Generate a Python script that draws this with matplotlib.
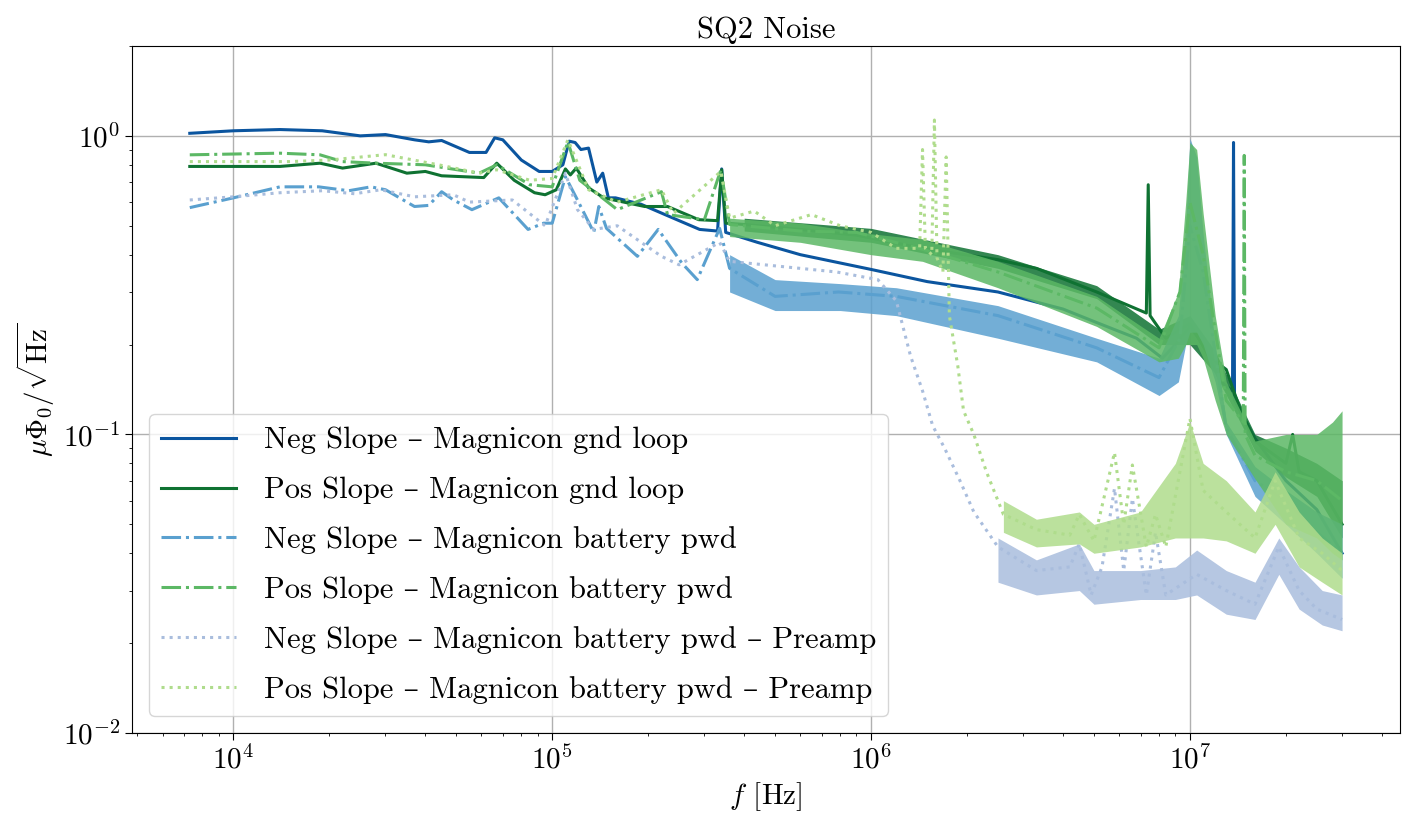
import matplotlib
matplotlib.use("Agg")
import matplotlib.pyplot as plt

plt.rcParams['font.family'] = ['cmr10', 'DejaVu Serif']
plt.rcParams['mathtext.fontset'] = 'cm'
plt.rcParams['axes.formatter.use_mathtext'] = True
plt.rcParams['axes.unicode_minus'] = False

labels = [
    "Neg Slope \u2013 Magnicon gnd loop",
    "Pos Slope \u2013 Magnicon gnd loop",
    "Neg Slope \u2013 Magnicon battery pwd",
    "Pos Slope \u2013 Magnicon battery pwd",
    "Neg Slope \u2013 Magnicon battery pwd \u2013 Preamp",
    "Pos Slope \u2013 Magnicon battery pwd \u2013 Preamp",
]
colors = ['#0b559f', '#0f7232', '#5aa0cf', '#5cb865', '#a9bddd', '#afdc8c']
styles = ['-', '-', '-.', '-.', ':', ':']

# Neg slope, gnd loop
f_ng = [7.3e3, 1.0e4, 1.4e4, 1.9e4, 2.5e4, 3.0e4, 3.7e4, 4.1e4, 4.5e4, 5.5e4, 6.2e4, 6.6e4,
        7.0e4, 8.0e4, 9.1e4, 1.0e5, 1.08e5, 1.13e5, 1.18e5, 1.23e5, 1.3e5, 1.38e5, 1.44e5,
        1.5e5, 1.58e5, 1.9e5, 2.5e5, 2.9e5, 3.3e5, 3.4e5, 3.5e5, 4.4e5, 6.0e5, 1.0e6, 1.5e6,
        2.5e6, 4.0e6, 5.1e6, 6.8e6, 8.2e6, 9.0e6, 1.0e7, 1.1e7, 1.25e7, 1.36e7, 1.37e7, 1.38e7,
        1.6e7, 2.0e7, 2.5e7, 3.0e7]
v_ng = [1.02, 1.04, 1.05, 1.04, 1.0, 1.01, 0.97, 0.955, 0.965, 0.88, 0.88, 0.985,
        0.97, 0.83, 0.76, 0.76, 0.80, 0.96, 0.95, 0.90, 0.91, 0.70, 0.75,
        0.62, 0.62, 0.59, 0.52, 0.486, 0.48, 0.775, 0.475, 0.44, 0.40, 0.357, 0.325,
        0.30, 0.263, 0.237, 0.21, 0.18, 0.20, 0.23, 0.20, 0.15, 0.14, 0.95, 0.13,
        0.097, 0.07, 0.056, 0.04]

# Pos slope, gnd loop
f_pg = [7.3e3, 1.0e4, 1.4e4, 1.87e4, 2.2e4, 2.8e4, 3.5e4, 4.0e4, 4.5e4, 6.1e4, 6.7e4, 7.6e4,
        8.8e4, 9.5e4, 1.03e5, 1.1e5, 1.14e5, 1.19e5, 1.3e5, 1.45e5, 1.95e5, 2.3e5, 2.88e5,
        3.3e5, 3.4e5, 3.5e5, 4.0e5, 6.0e5, 9.0e5, 1.45e6, 2.5e6, 3.3e6, 5.1e6, 7.3e6, 7.4e6,
        7.5e6, 8.4e6, 1.0e7, 1.15e7, 1.3e7, 1.45e7, 1.6e7, 2.0e7, 2.1e7, 2.2e7, 2.5e7, 3.0e7]
v_pg = [0.79, 0.79, 0.79, 0.81, 0.78, 0.81, 0.75, 0.76, 0.735, 0.725, 0.81, 0.71,
        0.645, 0.635, 0.66, 0.775, 0.74, 0.78, 0.67, 0.62, 0.58, 0.58, 0.524,
        0.52, 0.77, 0.51, 0.505, 0.486, 0.465, 0.42, 0.385, 0.36, 0.30, 0.255, 0.686,
        0.25, 0.21, 0.235, 0.182, 0.165, 0.118, 0.095, 0.08, 0.10, 0.075, 0.07, 0.05]
bf_pg = [4.0e5, 1.0e6, 2.5e6, 5.1e6, 8.0e6, 1.0e7, 1.2e7, 1.6e7, 2.0e7, 2.5e7, 3.0e7]
blo_pg = [0.48, 0.44, 0.36, 0.285, 0.20, 0.20, 0.16, 0.088, 0.072, 0.062, 0.045]
bhi_pg = [0.53, 0.49, 0.40, 0.315, 0.225, 0.25, 0.19, 0.10, 0.09, 0.08, 0.07]

# Neg slope, battery powered
f_nb = [7.3e3, 1.0e4, 1.4e4, 1.85e4, 2.3e4, 2.7e4, 3.0e4, 3.7e4, 4.1e4, 4.5e4, 4.9e4, 5.6e4,
        6.8e4, 8.4e4, 9.4e4, 1.0e5, 1.1e5, 1.2e5, 1.35e5, 1.4e5, 1.48e5, 1.85e5, 2.15e5, 2.55e5,
        2.85e5, 3.35e5, 3.6e5, 5.0e5, 7.9e5, 1.2e6, 2.5e6, 5.1e6, 8.0e6, 9.3e6, 1.0e7, 1.1e7,
        1.3e7, 1.6e7, 2.0e7, 2.5e7, 3.0e7]
v_nb = [0.575, 0.62, 0.675, 0.675, 0.655, 0.675, 0.66, 0.58, 0.585, 0.65, 0.61, 0.566,
        0.62, 0.486, 0.51, 0.51, 0.73, 0.61, 0.475, 0.58, 0.49, 0.395, 0.486, 0.375,
        0.33, 0.49, 0.36, 0.29, 0.30, 0.29, 0.25, 0.195, 0.155, 0.21, 0.5, 0.35,
        0.105, 0.07, 0.06, 0.047, 0.04]
bf_nb = [3.6e5, 5.0e5, 8.0e5, 1.2e6, 2.5e6, 5.1e6, 8.0e6, 9.2e6, 9.7e6, 1.0e7, 1.05e7,
         1.1e7, 1.2e7, 1.3e7, 1.6e7, 2.0e7, 2.5e7, 3.0e7]
blo_nb = [0.30, 0.26, 0.26, 0.25, 0.21, 0.175, 0.135, 0.15, 0.20, 0.22, 0.22,
          0.20, 0.15, 0.10, 0.062, 0.05, 0.04, 0.033]
bhi_nb = [0.40, 0.33, 0.32, 0.31, 0.27, 0.21, 0.18, 0.25, 0.50, 0.98, 0.85,
          0.47, 0.20, 0.11, 0.078, 0.065, 0.055, 0.05]

# Pos slope, battery powered
f_pb = [7.3e3, 1.4e4, 1.87e4, 2.2e4, 2.8e4, 4.0e4, 5.9e4, 6.7e4, 8.5e4, 1.0e5, 1.12e5, 1.22e5,
        1.37e5, 1.6e5, 2.2e5, 2.3e5, 3.0e5, 3.38e5, 3.6e5, 6.0e5, 9.0e5, 1.45e6, 2.5e6, 5.1e6,
        8.0e6, 9.3e6, 1.0e7, 1.1e7, 1.3e7, 1.47e7, 1.48e7, 1.49e7, 1.6e7, 2.0e7, 2.5e7, 3.0e7]
v_pb = [0.864, 0.875, 0.864, 0.82, 0.81, 0.80, 0.75, 0.80, 0.686, 0.675, 0.955, 0.71,
        0.645, 0.566, 0.65, 0.545, 0.524, 0.77, 0.505, 0.48, 0.475, 0.417, 0.35, 0.265,
        0.195, 0.30, 0.6, 0.4, 0.13, 0.11, 0.86, 0.10, 0.085, 0.075, 0.07, 0.06]
bf_pb = [3.6e5, 6.0e5, 1.0e6, 1.45e6, 2.5e6, 5.1e6, 8.0e6, 9.2e6, 9.7e6, 1.0e7, 1.05e7,
         1.1e7, 1.2e7, 1.3e7, 1.6e7, 2.0e7, 2.5e7, 2.8e7, 3.0e7]
blo_pb = [0.46, 0.44, 0.40, 0.38, 0.31, 0.23, 0.175, 0.18, 0.20, 0.20, 0.20,
          0.18, 0.13, 0.10, 0.071, 0.05, 0.045, 0.04, 0.038]
bhi_pb = [0.53, 0.51, 0.47, 0.45, 0.38, 0.29, 0.21, 0.30, 0.60, 0.95, 0.90,
          0.55, 0.25, 0.15, 0.095, 0.10, 0.10, 0.11, 0.12]

# Neg slope, battery powered, preamp
f_np = [7.3e3, 1.0e4, 1.4e4, 1.9e4, 2.4e4, 2.9e4, 3.7e4, 4.9e4, 5.5e4, 7.5e4, 9.5e4, 1.1e5,
        1.2e5, 1.35e5, 1.6e5, 2.2e5, 2.5e5, 3.35e5, 3.6e5, 7.8e5, 1.05e6, 1.2e6, 1.33e6, 1.45e6,
        1.56e6, 1.7e6, 1.9e6, 2.1e6, 2.5e6, 3.3e6, 4.2e6, 4.5e6, 4.9e6, 5.3e6, 5.8e6, 6.2e6,
        6.6e6, 7.3e6, 7.8e6, 8.4e6, 1.05e7, 1.3e7, 1.6e7, 1.9e7, 2.2e7, 2.5e7, 3.0e7]
v_np = [0.61, 0.625, 0.645, 0.655, 0.64, 0.66, 0.625, 0.635, 0.60, 0.61, 0.50, 0.75,
        0.566, 0.486, 0.50, 0.395, 0.37, 0.44, 0.38, 0.35, 0.33, 0.28, 0.183, 0.14,
        0.107, 0.09, 0.07, 0.055, 0.042, 0.035, 0.036, 0.043, 0.029, 0.036, 0.066, 0.035,
        0.061, 0.029, 0.047, 0.029, 0.034, 0.03, 0.027, 0.042, 0.03, 0.026, 0.024]
bf_np = [2.5e6, 3.3e6, 4.5e6, 5.0e6, 7.0e6, 9.0e6, 1.05e7, 1.3e7, 1.6e7, 1.9e7, 2.2e7,
         2.6e7, 3.0e7]
blo_np = [0.032, 0.029, 0.030, 0.027, 0.028, 0.028, 0.029, 0.025, 0.024, 0.034, 0.026,
          0.023, 0.022]
bhi_np = [0.045, 0.038, 0.043, 0.035, 0.035, 0.036, 0.041, 0.035, 0.032, 0.045, 0.036,
          0.030, 0.029]

# Pos slope, battery powered, preamp
f_pp = [7.3e3, 1.0e4, 1.5e4, 2.0e4, 3.0e4, 4.4e4, 5.9e4, 6.7e4, 8.5e4, 1.0e5, 1.12e5, 1.3e5,
        1.6e5, 2.2e5, 2.4e5, 3.38e5, 3.6e5, 4.3e5, 5.0e5, 6.5e5, 8.0e5, 1.0e6, 1.2e6, 1.42e6,
        1.45e6, 1.48e6, 1.55e6, 1.58e6, 1.61e6, 1.68e6, 1.72e6, 1.76e6, 1.87e6, 1.95e6, 2.1e6,
        2.3e6, 2.6e6, 3.3e6, 4.2e6, 4.5e6, 5.0e6, 5.8e6, 6.2e6, 6.6e6, 7.3e6, 7.8e6, 8.4e6,
        1.0e7, 1.1e7, 1.3e7, 1.6e7, 1.85e7, 2.2e7, 2.6e7, 3.0e7]
v_pp = [0.82, 0.82, 0.82, 0.83, 0.865, 0.80, 0.75, 0.77, 0.71, 0.72, 0.97, 0.66,
        0.60, 0.66, 0.55, 0.76, 0.53, 0.56, 0.50, 0.545, 0.50, 0.475, 0.42, 0.42,
        0.90, 0.42, 0.40, 1.13, 0.39, 0.35, 0.85, 0.25, 0.17, 0.12, 0.10,
        0.075, 0.054, 0.048, 0.046, 0.054, 0.044, 0.087, 0.05, 0.079, 0.042, 0.054, 0.042,
        0.113, 0.065, 0.055, 0.045, 0.07, 0.045, 0.04, 0.035]
bf_pp = [2.6e6, 3.3e6, 4.5e6, 5.0e6, 7.0e6, 9.0e6, 1.0e7, 1.1e7, 1.3e7, 1.6e7, 1.85e7,
         2.2e7, 2.6e7, 3.0e7]
blo_pp = [0.047, 0.042, 0.043, 0.040, 0.042, 0.045, 0.045, 0.045, 0.044, 0.040, 0.050,
          0.036, 0.032, 0.029]
bhi_pp = [0.060, 0.052, 0.055, 0.050, 0.055, 0.080, 0.110, 0.080, 0.070, 0.055, 0.075,
          0.055, 0.045, 0.040]

lines = [(f_ng, v_ng), (f_pg, v_pg), (f_nb, v_nb), (f_pb, v_pb), (f_np, v_np), (f_pp, v_pp)]
bands = [None, (bf_pg, blo_pg, bhi_pg), (bf_nb, blo_nb, bhi_nb), (bf_pb, blo_pb, bhi_pb),
         (bf_np, blo_np, bhi_np), (bf_pp, blo_pp, bhi_pp)]

fig = plt.figure(figsize=(14.06, 8.14), dpi=100)
ax = fig.add_axes([0.094, 0.0995, 0.9015, 0.844])

for i, (f, v) in enumerate(lines):
    ax.plot(f, v, styles[i], color=colors[i], lw=2.2, label=labels[i], zorder=2 + i)
    if bands[i] is not None:
        bf, lo, hi = bands[i]
        ax.fill_between(bf, lo, hi, color=colors[i], lw=0, alpha=0.85, zorder=2 + i)

ax.set_xscale('log')
ax.set_yscale('log')
ax.set_ylim(1e-2, 2)
ax.grid(True, which='major', color='#b0b0b0', lw=1.0)
ax.set_axisbelow(True)
ax.tick_params(axis='both', which='major', labelsize=21, length=5)
ax.set_xlabel(r'$f$ [Hz]', fontsize=21)
ax.set_ylabel(r'$\mu\Phi_0/\sqrt{\mathrm{Hz}}$', fontsize=21)
ax.set_title('SQ2 Noise', fontsize=22)
ax.legend(loc='lower left', fontsize=22, labelspacing=0.72, handlelength=2.45,
          handletextpad=0.9, borderaxespad=0.55)

fig.savefig('out.png', dpi=100)
